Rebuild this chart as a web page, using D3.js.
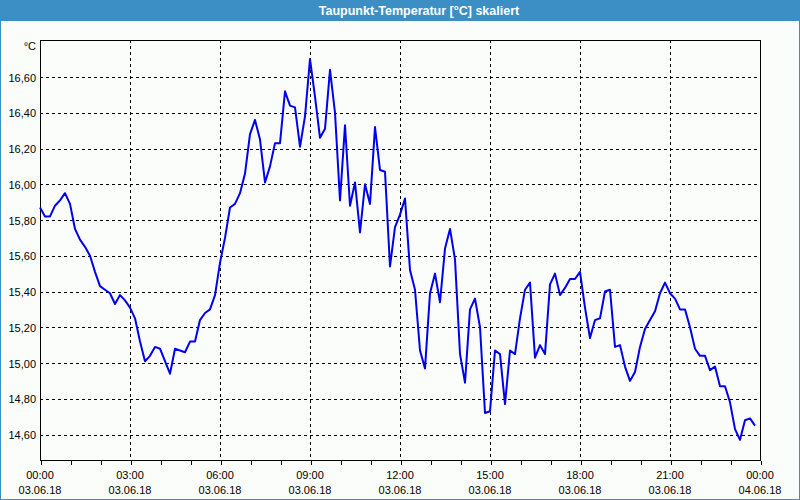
<!DOCTYPE html>
<html><head><meta charset="utf-8">
<script src="https://cdn.jsdelivr.net/npm/d3@7"></script>
<style>
html,body{margin:0;padding:0;background:#fff;}
svg{display:block;}
text{font-family:"Liberation Sans",Arial,sans-serif;}
</style></head>
<body>
<script>
const title = "Taupunkt-Temperatur [°C] skaliert";
const unitLabel = "°C";
// dew point values, one every 10 minutes starting 03.06.18 00:00
const values = [
15.87,15.82,15.82,15.88,15.91,15.95,15.89,15.75,15.69,15.65,15.60,15.51,
15.43,15.41,15.39,15.33,15.38,15.35,15.31,15.25,15.12,15.01,15.04,15.09,
15.08,15.01,14.94,15.08,15.07,15.06,15.12,15.12,15.24,15.28,15.30,15.38,
15.56,15.70,15.87,15.89,15.95,16.06,16.28,16.36,16.25,16.01,16.10,16.23,
16.23,16.52,16.44,16.43,16.21,16.38,16.70,16.49,16.26,16.31,16.64,16.40,
15.91,16.33,15.88,16.01,15.73,16.00,15.89,16.32,16.08,16.07,15.54,15.76,
15.83,15.92,15.52,15.41,15.07,14.97,15.39,15.50,15.34,15.64,15.75,15.58,
15.05,14.89,15.30,15.36,15.20,14.72,14.73,15.07,15.05,14.77,15.07,15.05,
15.25,15.41,15.45,15.03,15.10,15.05,15.44,15.50,15.38,15.42,15.47,15.47,
15.51,15.31,15.14,15.24,15.25,15.40,15.41,15.09,15.10,14.98,14.90,14.95,
15.09,15.19,15.24,15.29,15.39,15.45,15.39,15.36,15.30,15.30,15.20,15.08,
15.04,15.04,14.96,14.98,14.87,14.87,14.78,14.63,14.57,14.68,14.69,14.65
];
const sampleMinutes = 10;
const yTicks = [14.6,14.8,15.0,15.2,15.4,15.6,15.8,16.0,16.2,16.4,16.6];
const yTickLabels = ["14,60","14,80","15,00","15,20","15,40","15,60","15,80","16,00","16,20","16,40","16,60"];
const xTicks = [0,3,6,9,12,15,18,21,24];
const xTimeLabels = ["00:00","03:00","06:00","09:00","12:00","15:00","18:00","21:00","00:00"];
const xDateLabels = ["03.06.18","03.06.18","03.06.18","03.06.18","03.06.18","03.06.18","03.06.18","03.06.18","04.06.18"];

const W = 800, H = 500;
const L = 40, R = 760, T = 40, B = 460;
const svg = d3.select("body").append("svg").attr("width", W).attr("height", H);

svg.append("rect").attr("x",0).attr("y",0).attr("width",W).attr("height",H).attr("fill","#fbfdfb");
// window border
svg.append("rect").attr("x",0.5).attr("y",0.5).attr("width",W-1).attr("height",H-1)
  .attr("fill","none").attr("stroke","#3c8fc4").attr("stroke-width",1);
// title bar
svg.append("rect").attr("x",0).attr("y",0).attr("width",W).attr("height",21).attr("fill","#3c8fc4");
svg.append("text").attr("x",419).attr("y",14.5).attr("text-anchor","middle")
  .attr("fill","#fff").attr("font-weight","bold").attr("font-size","12.5px").text(title);

const x = d3.scaleLinear().domain([0,24]).range([L,R]);
const y = d3.scaleLinear().domain([14.6,16.6]).range([434.5,77]);

const g = svg.append("g");
// horizontal grid
g.selectAll(".hg").data(yTicks).enter().append("line")
  .attr("x1",L).attr("x2",R)
  .attr("y1",d=>Math.round(y(d))+0.5).attr("y2",d=>Math.round(y(d))+0.5)
  .attr("stroke","#000").attr("stroke-dasharray","3,3").attr("shape-rendering","crispEdges");
// vertical grid
g.selectAll(".vg").data(xTicks.slice(1,-1)).enter().append("line")
  .attr("y1",T).attr("y2",B)
  .attr("x1",d=>Math.round(x(d))+0.5).attr("x2",d=>Math.round(x(d))+0.5)
  .attr("stroke","#000").attr("stroke-dasharray","3,3").attr("shape-rendering","crispEdges");

// frame
g.append("rect").attr("x",L+0.5).attr("y",T+0.5).attr("width",R-L).attr("height",B-T)
  .attr("fill","none").attr("stroke","#000").attr("shape-rendering","crispEdges");

// x axis with hourly ticks
const xAxis = d3.axisBottom(x).tickValues(d3.range(0,25,1)).tickSize(4).tickFormat("");
const ax = svg.append("g").attr("transform",`translate(0.5,${B+0.5})`).call(xAxis);
ax.select(".domain").remove();
ax.selectAll("line").attr("stroke","#000").attr("shape-rendering","crispEdges");

svg.selectAll(".xt").data(xTicks).enter().append("text")
  .attr("x",d=>x(d)).attr("y",479).attr("text-anchor","middle")
  .attr("font-size","11px").attr("fill","#000").text((d,i)=>xTimeLabels[i]);
svg.selectAll(".xd").data(xTicks).enter().append("text")
  .attr("x",d=>x(d)).attr("y",494).attr("text-anchor","middle")
  .attr("font-size","11px").attr("fill","#000").text((d,i)=>xDateLabels[i]);

svg.selectAll(".yt").data(yTicks).enter().append("text")
  .attr("x",36).attr("y",d=>y(d)+4.5).attr("text-anchor","end")
  .attr("font-size","11px").attr("fill","#000").text((d,i)=>yTickLabels[i]);
svg.append("text").attr("x",36).attr("y",50).attr("text-anchor","end")
  .attr("font-size","11px").attr("fill","#000").text(unitLabel);

const line = d3.line()
  .x((d,i)=>x(i*sampleMinutes/60))
  .y(d=>y(d));
svg.append("path").datum(values).attr("d",line)
  .attr("fill","none").attr("stroke","#0000ee").attr("stroke-width",2)
  .attr("stroke-linejoin","round");
</script>
</body></html>
